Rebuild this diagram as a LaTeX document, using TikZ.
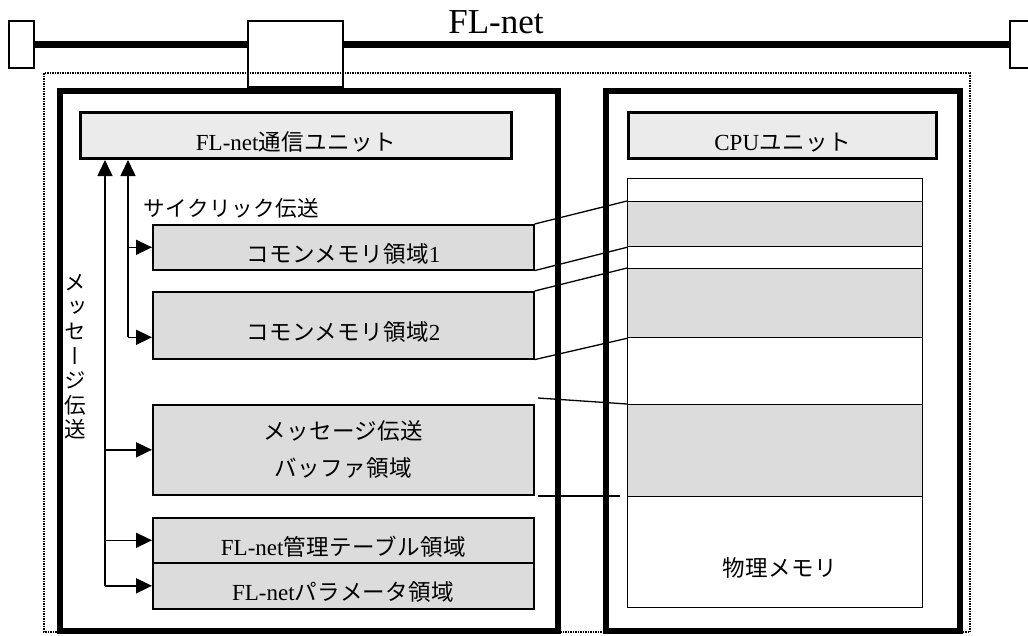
\documentclass[tikz,border=0pt]{standalone}
\usepackage{fontspec}
\setmainfont{Liberation Serif}
\newfontfamily\jp[Scale=0.98,LetterSpace=2]{Noto Sans CJK JP}
\newfontfamily\jpv[Scale=0.98,RawFeature=+vert]{Noto Sans CJK JP}
\usetikzlibrary{arrows.meta}
\definecolor{unitgray}{HTML}{EBEBEB}
\definecolor{memgray}{HTML}{DCDCDC}
\tikzset{
	endbox/.style={draw,fill=white,line width=1.5pt,inner sep=0pt,anchor=north west,minimum width=25,minimum height=47},
	bus/.style={line width=7pt},
	frame/.style={draw,line width=6pt,inner sep=0pt,anchor=north west,minimum height=540},
	unit/.style={draw,line width=3pt,fill=unitgray,inner sep=0pt,anchor=north west,minimum height=46,font=\fontsize{23}{26}\selectfont,oneline},
	area/.style={draw,line width=1.6pt,fill=memgray,inner sep=0pt,anchor=north west,minimum width=381,font=\fontsize{23}{37}\selectfont,align=center},
	oneline/.style={text height=30pt,text depth=0pt},
	cell/.style={draw,line width=1.3pt,inner sep=0pt,anchor=north west,minimum width=295},
	flow/.style={line width=1.6pt,-{Triangle[length=16pt,width=15pt]}},
	link/.style={line width=1.3pt}
}
\begin{document}
\begin{tikzpicture}[x=1pt,y=-1pt]
	\useasboundingbox (0,0) rectangle (1028,635);
	\node[endbox] (busl) at (8,20) {};
	\node[endbox] (busr) at (1009,20) {};
	\draw[bus] (busl) -- (busr);
	\node[endbox,minimum width=95,minimum height=66] (port) at (247,20) {};
	\node[font=\fontsize{35}{40}\selectfont] (title) at (496,22) {FL-net};
	\draw[dash pattern=on 1.5pt off 1pt,line width=1.3pt] (44,73) rectangle (970,632);
	\node[frame,minimum width=498] (flside) at (57,88) {};
	\node[frame,minimum width=354] (cpuside) at (603,88) {};
	\node[unit,minimum width=431] (flunit) at (79,111) {FL-net{\jp 通信ユニット}};
	\node[unit,minimum width=308] (cpuunit) at (627,111) {CPU{\jp ユニット}};
	\node[area,oneline,minimum height=45] (cm1) at (152,224) {{\jp コモンメモリ領域}1};
	\node[area,oneline,minimum height=67] (cm2) at (152,291) {{\jp コモンメモリ領域}2};
	\node[area,minimum height=90] (msgbuf) at (152,404) {{\jp メッセージ伝送}\\{\jp バッファ領域}};
	\node[area,oneline,minimum height=45] (mgmt) at (152,517) {FL-net{\jp 管理テーブル領域}};
	\node[area,oneline,minimum height=46] (param) at (152,562) {FL-net{\jp パラメータ領域}};
	\foreach \y/\h/\c [count=\i from 0] in {178/23/white,201/45/memgray,246/22/white,268/69/memgray,337/67/white,404/92/memgray,496/111/white}
		\node[cell,fill=\c,minimum height=\h] (cell\i) at (627,\y) {};
	\node[font=\fontsize{23}{26}\selectfont\jp] (physlbl) at (780,568) {物理メモリ};
	\node[font=\fontsize{22}{26}\selectfont\jp,anchor=west] (cyclbl) at (140,208) {サイクリック伝送};
	\node[font=\fontsize{22}{24.5}\selectfont\jpv,align=center] (msglbl) at (75,357) {メ\\ッ\\セ\\ー\\ジ\\伝\\送};
	\draw[link] (cm1.north east) -- (cell1.north west);
	\draw[link] (cm1.south east) -- (cell1.south west);
	\draw[link] (cm2.north east) -- (cell3.north west);
	\draw[link] (cm2.south east) -- (cell3.south west);
	\coordinate (mtop) at (538,398);
	\coordinate (mbot) at (538,496);
	\coordinate (mend) at (620,496);
	\draw[link] (mtop) -- (cell5.north west);
	\draw[link] (mbot) -- (mend);
	\coordinate (mv) at (105,0);
	\coordinate (cv) at (128,0);
	\coordinate (cm2in) at ([yshift=-12pt]cm2.west);
	\draw[flow] (param.west -| mv) -- (mv |- flunit.south);
	\draw[flow] (cm2in -| cv) -- (cv |- flunit.south);
	\draw[flow] (cm1.west -| cv) -- (cm1.west);
	\draw[flow] (cm2in -| cv) -- (cm2in);
	\draw[flow] (msgbuf.west -| mv) -- (msgbuf.west);
	\draw[flow] (mgmt.west -| mv) -- (mgmt.west);
	\draw[flow] (param.west -| mv) -- (param.west);
\end{tikzpicture}
\end{document}
